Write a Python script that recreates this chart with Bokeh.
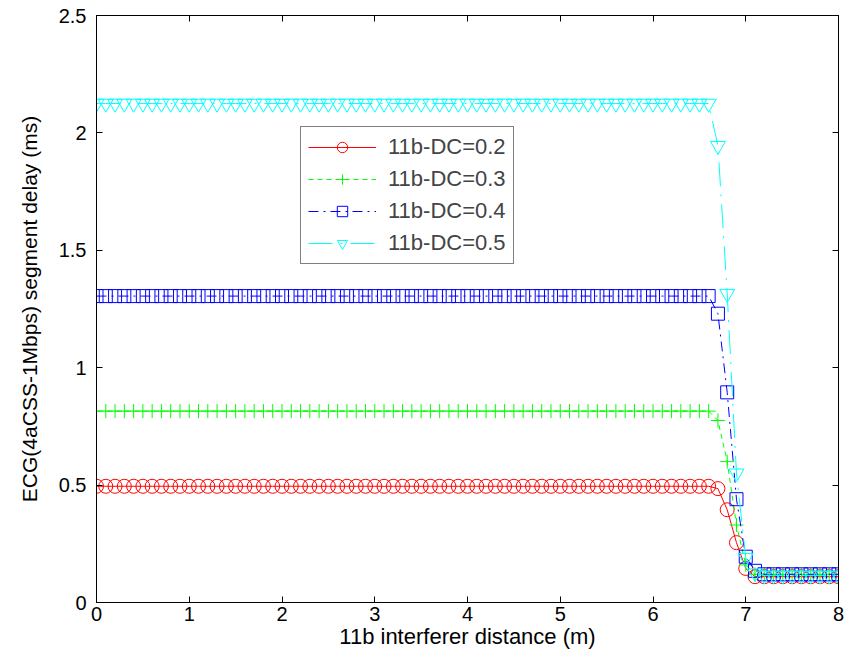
import numpy as np
from bokeh.plotting import figure
from bokeh.models import LinearAxis, Range1d, FixedTicker, Legend, LegendItem
from bokeh.embed import file_html
from bokeh.resources import INLINE

# distance grid (m), step 0.1
x = [round(i / 10, 1) for i in range(81)]

# delay (ms): flat part 0..6.6 (67 pts), transition 6.7..7.0, tail 7.1..8.0 (10 pts)
dc02 = [0.495] * 67 + [0.485, 0.395, 0.255, 0.145] + [0.11] * 10
dc03 = [0.815] * 67 + [0.775, 0.600, 0.330, 0.160] + [0.12] * 10
dc04 = [1.305] * 67 + [1.230, 0.895, 0.440, 0.195] + [0.135] + [0.12] * 9
dc05 = [2.125] * 67 + [1.945, 1.315, 0.550, 0.190] + [0.125] + [0.115] * 9

labels = ["11b-DC=0.2", "11b-DC=0.3", "11b-DC=0.4", "11b-DC=0.5"]
x_ticks = [0, 1, 2, 3, 4, 5, 6, 7, 8]
y_ticks = [0, 0.5, 1, 1.5, 2, 2.5]
y_tick_labels = ["0", "0.5", "1", "1.5", "2", "2.5"]
x_title = "11b interferer distance (m)"
y_title = "ECG(4aCSS-1Mbps) segment delay (ms)"

FONT = "Liberation Sans"

p = figure(width=847, height=654, output_backend="svg", toolbar_location=None,
           x_range=Range1d(0, 8), y_range=Range1d(0, 2.5),
           min_border_left=96, min_border_right=9, min_border_top=15, min_border_bottom=52)
p.xgrid.visible = False
p.ygrid.visible = False
p.outline_line_color = "black"
p.outline_line_width = 1
p.background_fill_color = "white"
p.border_fill_color = "white"

series = [
    (dc02, "#FF0000", "solid", "circle", 14),
    (dc03, "#00FF00", "5 4", "cross", 14),
    (dc04, "#0000FF", "10 5 2 5", "square", 13),
    (dc05, "#00FFFF", "24 8 2 8", "inverted_triangle", 15),
]

items = []
for (ys, col, dash, mk, sz), lab in zip(series, labels):
    r1 = p.line(x, ys, line_color=col, line_width=1, line_dash=dash)
    r2 = p.scatter(x, ys, marker=mk, size=sz, line_color=col, fill_color=None, line_width=1)
    items.append(LegendItem(label=lab, renderers=[r1, r2]))

legend = Legend(items=items, location=(204, 338))
legend.border_line_color = "black"
legend.border_line_width = 1
legend.background_fill_alpha = 1
legend.label_text_font = FONT
legend.label_text_font_size = "22px"
legend.glyph_width = 68
legend.glyph_height = 26
legend.label_height = 26
legend.spacing = 6
legend.padding = 7
legend.margin = 0
legend.label_standoff = 12
p.add_layout(legend, "center")

for ax in [p.xaxis[0], p.yaxis[0]]:
    ax.major_tick_in = 6
    ax.major_tick_out = 0
    ax.minor_tick_in = 0
    ax.minor_tick_out = 0
    ax.major_label_text_font = FONT
    ax.major_label_text_font_size = "20px"
    ax.major_label_text_color = "black"
    ax.axis_label_text_font = FONT
    ax.axis_label_text_font_style = "normal"
    ax.axis_label_text_color = "black"
    ax.axis_line_color = "black"
    ax.major_tick_line_color = "black"

p.xaxis[0].ticker = FixedTicker(ticks=x_ticks)
p.xaxis[0].major_label_overrides = {t: str(t) for t in x_ticks}
p.xaxis[0].major_label_standoff = 4
p.xaxis[0].axis_label = x_title
p.xaxis[0].axis_label_text_font_size = "22px"
p.xaxis[0].axis_label_standoff = 0

p.yaxis[0].ticker = FixedTicker(ticks=y_ticks)
p.yaxis[0].major_label_overrides = {t: l for t, l in zip(y_ticks, y_tick_labels)}
p.yaxis[0].axis_label = y_title
p.yaxis[0].axis_label_text_font_size = "21px"
p.yaxis[0].major_label_standoff = 10
p.yaxis[0].axis_label_standoff = 15

top = LinearAxis(ticker=FixedTicker(ticks=x_ticks), major_label_text_font_size="0px",
                 major_tick_in=6, major_tick_out=0, minor_tick_in=0, minor_tick_out=0,
                 major_label_standoff=0, axis_line_color="black")
top.major_label_text_alpha = 0
right = LinearAxis(ticker=FixedTicker(ticks=y_ticks), major_label_text_font_size="0px",
                   major_tick_in=6, major_tick_out=0, minor_tick_in=0, minor_tick_out=0,
                   major_label_standoff=0, axis_line_color="black")
right.major_label_text_alpha = 0
p.add_layout(top, "above")
p.add_layout(right, "right")

open("out.html", "w").write(file_html(p, INLINE))
